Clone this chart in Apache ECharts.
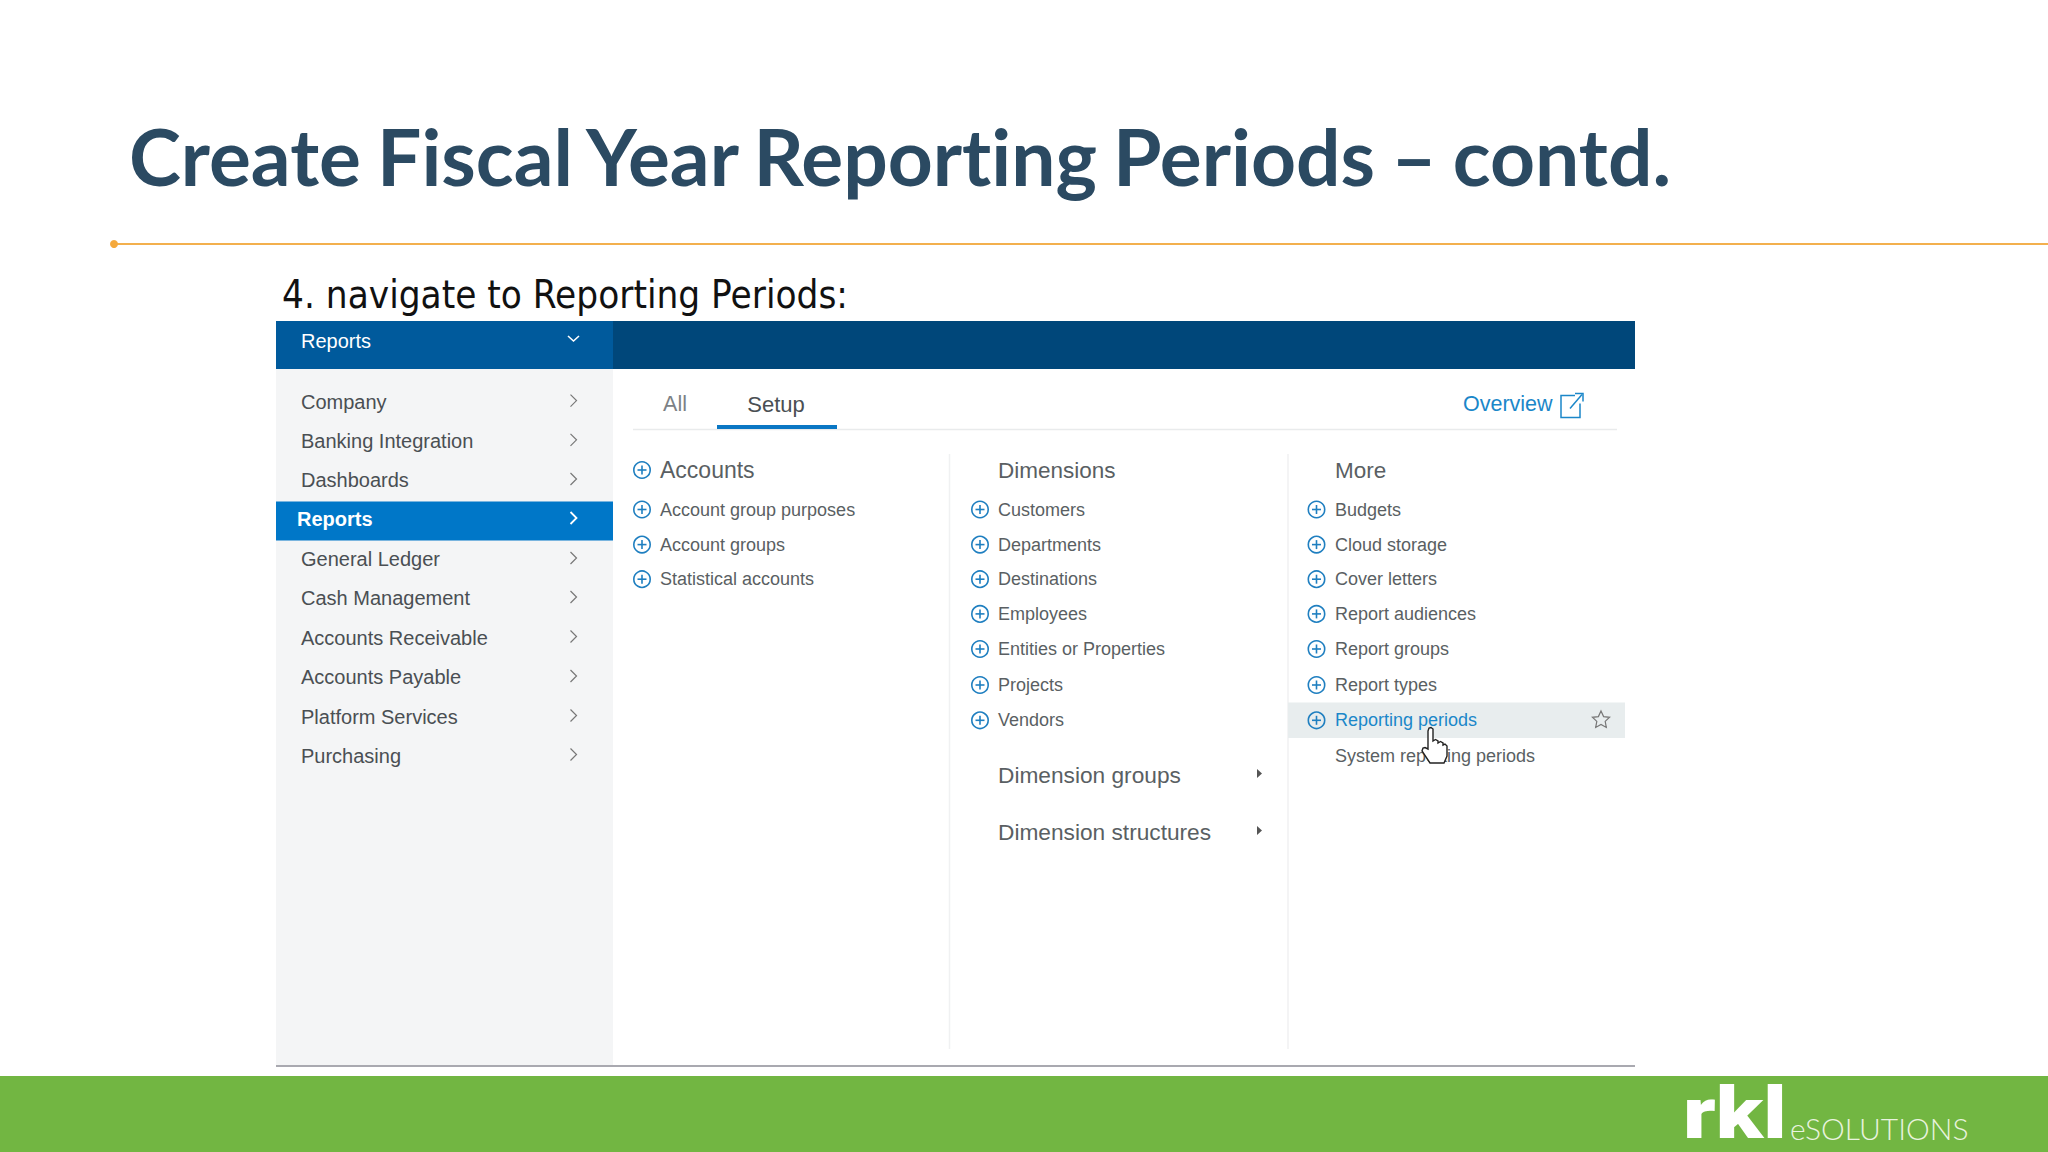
<!DOCTYPE html>
<html>
<head>
<meta charset="utf-8">
<title>Create Fiscal Year Reporting Periods</title>
<style>
  html, body { margin: 0; padding: 0; background: #fff; }
  #main { width: 2048px; height: 1152px; }
  #main text { font-variant-ligatures: none; }
</style>
<script src="https://cdn.jsdelivr.net/npm/echarts@6/dist/echarts.min.js"></script>
</head>
<body>
<div id="main"></div>
<script>
const titleText = 'Create Fiscal Year Reporting Periods \u2013 contd.';
const stepText = '4. navigate to Reporting Periods:';
const headerText = 'Reports';
const sideItems = ['Company', 'Banking Integration', 'Dashboards', 'Reports', 'General Ledger',
  'Cash Management', 'Accounts Receivable', 'Accounts Payable', 'Platform Services', 'Purchasing'];
const activeSideItem = 'Reports';
const tabs = ['All', 'Setup'];
const overviewText = 'Overview';
const accountItems = ['Account group purposes', 'Account groups', 'Statistical accounts'];
const dimensionItems = ['Customers', 'Departments', 'Destinations', 'Employees', 'Entities or Properties', 'Projects', 'Vendors'];
const dimensionMenus = ['Dimension groups', 'Dimension structures'];
const moreItems = ['Budgets', 'Cloud storage', 'Cover letters', 'Report audiences', 'Report groups', 'Report types', 'Reporting periods'];
const hoverItem = 'Reporting periods';
const plainItem = 'System reporting periods';
const logoMain = 'rkl';
const logoSub = 'eSOLUTIONS';

const UI_FONT = '"Liberation Sans", Arial, sans-serif';
const GREY = '#5a5f63';
const BLUE = '#1b87c9';
const ICON_BLUE = '#1f7fc0';
const rowY = [509.5, 544.6, 579.2, 613.9, 649, 685, 720.3];

const els = [];

function rect(x, y, w, h, fill) {
  els.push({ type: 'rect', shape: { x: x, y: y, width: w, height: h }, style: { fill: fill }, silent: true });
}
function line(x1, y1, x2, y2, stroke, lineWidth) {
  els.push({ type: 'line', shape: { x1: x1, y1: y1, x2: x2, y2: y2 }, style: { stroke: stroke, lineWidth: lineWidth || 1 }, silent: true });
}
function label(str, x, y, size, color, extra, scaleX) {
  els.push({
    type: 'text', x: x, y: y, scaleX: scaleX || 1, silent: true,
    style: Object.assign({
      text: str, fontSize: size, fill: color, fontFamily: UI_FONT,
      textAlign: 'left', textVerticalAlign: 'middle'
    }, extra || {})
  });
}
function stroked(points, color, lineWidth) {
  els.push({ type: 'polyline', silent: true, shape: { points: points }, style: { stroke: color, fill: 'none', lineWidth: lineWidth } });
}
function chevron(x, y, color, lineWidth) {
  stroked([[x - 3, y - 6], [x + 3, y], [x - 3, y + 6]], color, lineWidth || 1.2);
}
function plus(x, y) {
  els.push({ type: 'circle', shape: { cx: x, cy: y, r: 8.2 }, style: { stroke: ICON_BLUE, fill: 'none', lineWidth: 1.6 }, silent: true });
  line(x - 4.5, y, x + 4.5, y, ICON_BLUE, 1.6);
  line(x, y - 4.5, x, y + 4.5, ICON_BLUE, 1.6);
}
function column(items, plusX, textX) {
  items.forEach(function (name, i) {
    plus(plusX, rowY[i]);
    label(name, textX, rowY[i], 18, name === hoverItem ? BLUE : GREY);
  });
}

// slide frame
rect(0, 1076, 2048, 76, '#72b642');
label(titleText, 129, 156, 78.5, '#2b4a62', { fontFamily: 'Lato', fontWeight: 700 });
line(114, 244, 2048, 244, '#f3b04e', 2);
els.push({ type: 'circle', shape: { cx: 114, cy: 244, r: 4 }, style: { fill: '#f5a93c' }, silent: true });
label(stepText, 282, 294, 38.3, '#111', { fontFamily: '"DejaVu Sans Condensed", "DejaVu Sans"' });

// screenshot header + sidebar
rect(276, 369, 337, 697, '#f4f5f6');
rect(276, 321, 337, 48, '#005a9c');
rect(613, 321, 1022, 48, '#00477a');
line(276, 1066, 1635, 1066, '#a9a9b0', 2);
label(headerText, 301, 341, 20, '#fff');
stroked([[568, 336], [573.5, 341], [579, 336]], '#fff', 1.6);

const sideY = [401.6, 440.8, 480, 519, 559, 598, 637.5, 677, 716.5, 755.5];
sideItems.forEach(function (name, i) {
  const active = name === activeSideItem;
  if (active) rect(276, 501.5, 337, 39, '#0077c8');
  label(name, active ? 297 : 301, sideY[i], 20, active ? '#fff' : '#4a4f53', active ? { fontWeight: 700 } : null);
  chevron(573.5, sideY[i] - 1, active ? '#fff' : '#777', active ? 1.8 : 1.2);
});

// tabs
label(tabs[0], 675, 404, 21.5, '#7c8185', { textAlign: 'center' });
label(tabs[1], 776, 404, 22, '#4a4f53', { textAlign: 'center' });
line(633, 429.5, 1617, 429.5, '#e9ebec', 1.5);
rect(717, 425, 120, 4, '#0a77c4');
label(overviewText, 1463, 404, 21.5, BLUE);
stroked([[1575, 395.5], [1561, 395.5], [1561, 417.5], [1580, 417.5], [1580, 403.5]], BLUE, 1.5);
stroked([[1570, 408.5], [1582, 394.5]], BLUE, 1.5);
stroked([[1575, 393.5], [1583, 393.5], [1583, 401.5]], BLUE, 1.5);

// menu columns
line(949.5, 454, 949.5, 1049, '#f0f1f2', 1.5);
line(1288, 454, 1288, 1049, '#f0f1f2', 1.5);
rect(1288, 702.5, 337, 35.5, '#e8edee');

plus(642, 470);
label('Accounts', 660, 470, 23, GREY);
label('Dimensions', 998, 470, 22.5, GREY);
label('More', 1335, 470, 22.5, GREY);
column(accountItems, 642, 660);
column(dimensionItems, 980, 998);
column(moreItems, 1316.5, 1335);
label(plainItem, 1335, 755.5, 18, GREY);

[775, 832].forEach(function (y, i) {
  label(dimensionMenus[i], 998, y, 22.7, GREY);
  els.push({
    type: 'polygon', silent: true,
    shape: { points: [[1257, y - 6], [1262, y - 1.5], [1257, y + 3]] },
    style: { fill: '#555' }
  });
});

// favourite star on the hovered row
els.push({
  type: 'polygon', silent: true,
  shape: { points: [[1601, 711], [1603.6, 716.6], [1609.6, 717.3], [1605.2, 721.4], [1606.3, 727.4],
    [1601, 724.4], [1595.7, 727.4], [1596.8, 721.4], [1592.4, 717.3], [1598.4, 716.6]] },
  style: { stroke: '#777', fill: 'none', lineWidth: 1.2 }
});

// hand cursor
els.push({
  type: 'polygon', silent: true,
  shape: { points: [[1428, 731], [1429, 728], [1431, 727.5], [1433, 729], [1433, 741], [1435.5, 739.5], [1438, 741],
    [1438, 743], [1440.5, 741.5], [1443, 743], [1443, 745], [1445, 744], [1447, 746], [1447, 756], [1444, 763],
    [1430, 763], [1422, 751], [1423, 748], [1425, 747.5], [1428, 749]] },
  style: { stroke: '#222', fill: '#fff', lineWidth: 1.4 }
});

// logo
label(logoMain, 1683, 1113, 72, '#fff', { fontFamily: 'Roboto', fontWeight: 900 }, 1.2);
label(logoSub, 1790, 1128, 30, '#e9f3df', { fontFamily: 'Lato', fontWeight: 300 });

const chart = echarts.init(document.getElementById('main'), null, { renderer: 'svg' });
chart.setOption({
  animation: false,
  backgroundColor: '#ffffff',
  graphic: { elements: els }
});
// the slide sets its title with tighter spaces than Lato's default
document.querySelectorAll('#main text').forEach(function (t) {
  if (t.textContent === titleText) t.style.wordSpacing = '-3px';
});
</script>
</body>
</html>
